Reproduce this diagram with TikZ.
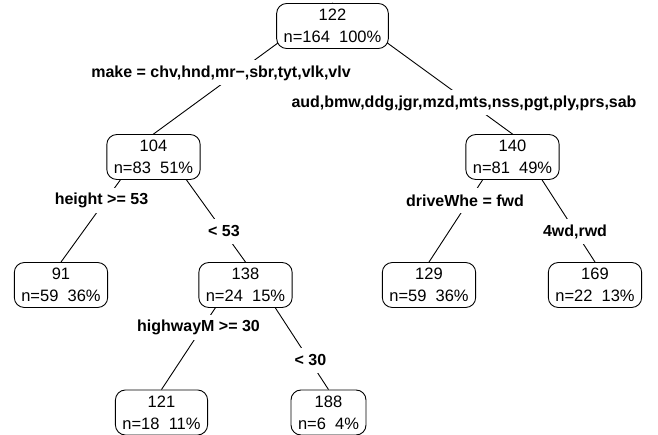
\documentclass[tikz,border=0pt]{standalone}
\usepackage{fontspec}
\setmainfont{Liberation Sans}
\usetikzlibrary{backgrounds}
\begin{document}
\begin{tikzpicture}[x=1pt,y=-1pt,
  treebox/.style={draw=black, line width=0.9pt, fill=white, rounded corners=10pt,
    align=center, inner xsep=7pt, inner ysep=0pt, minimum height=45pt,
    font=\fontsize{16.5}{22}\selectfont},
  splitlab/.style={fill=white, inner xsep=2pt, inner ysep=0pt, minimum height=25pt,
    font=\fontsize{16}{19}\selectfont\bfseries},
  branch/.style={draw=black, line width=0.9pt}]
\useasboundingbox (0,0) rectangle (658,435);

\node[treebox] (root) at (332.5,26) {122\\n=164~~100\%};
\node[treebox] (n104) at (153.5,157) {104\\n=83~~51\%};
\node[treebox] (n140) at (512.5,157) {140\\n=81~~49\%};
\node[treebox] (n91)  at (61,285)    {91\\n=59~~36\%};
\node[treebox] (n138) at (245.5,285) {138\\n=24~~15\%};
\node[treebox] (n129) at (429,285)   {129\\n=59~~36\%};
\node[treebox] (n169) at (595,285)   {169\\n=22~~13\%};
\node[treebox] (n121) at (161.5,412.5) {121\\n=18~~11\%};
\node[treebox] (n188) at (328.5,412.5) {188\\n=6~~4\%};

\node[splitlab] (l1) at (221,73) {make = chv,hnd,mr\textminus,sbr,tyt,vlk,vlv};
\node[splitlab] (l2) at (464,103) {aud,bmw,ddg,jgr,mzd,mts,nss,pgt,ply,prs,sab};
\node[splitlab] (l3) at (101.5,200.5) {height >= 53};
\node[splitlab] (l4) at (224,231.5) {< 53};
\node[splitlab] (l5) at (465,201) {driveWhe = fwd};
\node[splitlab] (l6) at (575,231.5) {4wd,rwd};
\node[splitlab] (l7) at (198.5,327.5) {highwayM >= 30};
\node[splitlab] (l8) at (310.5,360) {< 30};

\begin{scope}[on background layer]
  \path[branch] (root.north) -- (n104.north);
  \path[branch] (root.north) -- (n140.north);
  \path[branch] (n104.north) -- (n91.north);
  \path[branch] (n104.north) -- (n138.north);
  \path[branch] (n140.north) -- (n129.north);
  \path[branch] (n140.north) -- (n169.north);
  \path[branch] (n138.north) -- (n121.north);
  \path[branch] (n138.north) -- (n188.north);
\end{scope}
\end{tikzpicture}
\end{document}
